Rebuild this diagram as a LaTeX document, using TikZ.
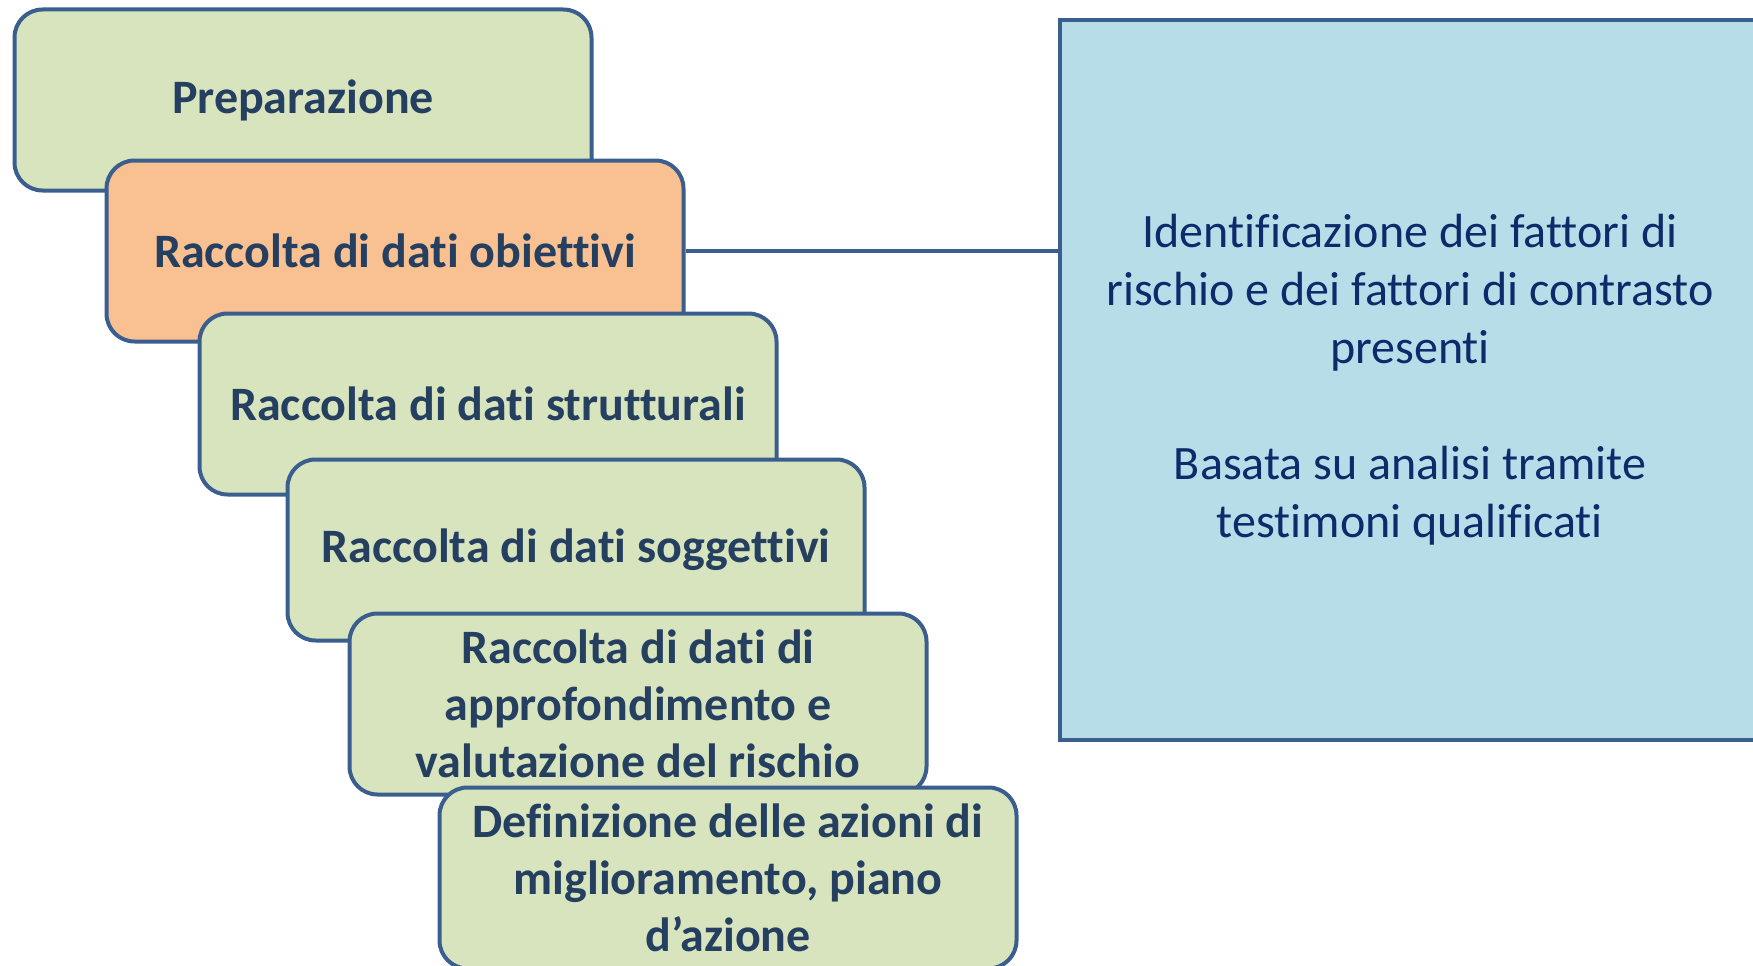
\documentclass[tikz,border=0pt]{standalone}
\usepackage{fontspec}
\setmainfont{Carlito}[Ligatures={NoCommon}]
\definecolor{bordc}{HTML}{3A5F8E}
\definecolor{greenf}{HTML}{D7E4BD}
\definecolor{orangef}{HTML}{F9C091}
\definecolor{bluef}{HTML}{B7DDE8}
\definecolor{boxtxt}{HTML}{243F60}
\definecolor{infotxt}{HTML}{0D2A6A}
\tikzset{
  stepbox/.style={draw=bordc, line width=4pt, rounded corners=28pt, fill=greenf,
    minimum width=577pt, minimum height=181pt, align=center, text=boxtxt,
    font=\fontsize{48}{57}\selectfont\bfseries, inner sep=0pt},
  infobox/.style={draw=bordc, line width=4pt, fill=bluef,
    minimum width=700pt, minimum height=720pt, align=center, text=infotxt,
    font=\fontsize{48}{58}\selectfont, inner sep=0pt},
  link/.style={draw=bordc, line width=3.5pt}
}
\begin{document}
\begin{tikzpicture}[x=1pt,y=-1pt]
\useasboundingbox (0,0) rectangle (1753,966);
\node[infobox] (info) at (1410,380) {Identificazione dei fattori di\\rischio e dei fattori di contrasto\\presenti\\[58pt]Basata su analisi tramite\\testimoni qualificati};
\node[stepbox] (b1) at (303,100) {Preparazione};
\node[stepbox, fill=orangef] (b2) at (395,251) {Raccolta di dati obiettivi};
\draw[link] (b2.east) -- (info.west |- b2.east);
\node[stepbox] (b3) at (488,404) {Raccolta di dati strutturali};
\node[stepbox] (b4) at (576,550) {Raccolta di dati soggettivi};
\node[stepbox] (b5) at (638,704) {Raccolta di dati di\\approfondimento e\\valutazione del rischio};
\node[stepbox] (b6) at (728,878) {Definizione delle azioni di\\miglioramento, piano\\d’azione};
\end{tikzpicture}
\end{document}
